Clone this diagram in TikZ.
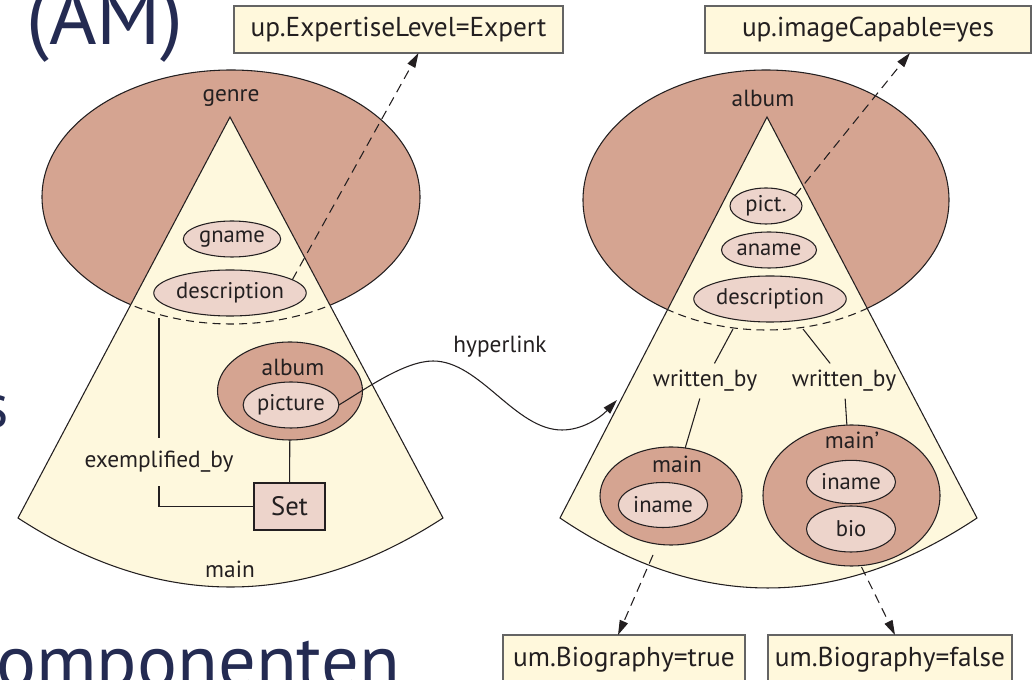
\documentclass[tikz,border=0pt]{standalone}
\usepackage{fontspec}
\setmainfont{PT Sans}
\usetikzlibrary{shapes.geometric,arrows.meta,calc}
\definecolor{cone}{RGB}{254,248,221}
\definecolor{outer}{RGB}{213,164,145}
\definecolor{inner}{RGB}{237,212,203}
\definecolor{note}{RGB}{255,248,220}
\definecolor{frame}{RGB}{100,100,100}
\definecolor{navy}{RGB}{36,43,82}
\definecolor{ink}{RGB}{35,31,32}
\begin{document}
\begin{tikzpicture}[x=0.75pt,y=-0.75pt,
  every node/.style={text=ink},
  lbl/.style={font=\fontsize{17.5}{19}\selectfont, inner sep=1pt},
  region/.style={ellipse, draw=ink, fill=outer, line width=0.8pt, inner sep=0pt, outer sep=0pt},
  attr/.style={ellipse, draw=ink, fill=inner, line width=0.8pt, inner sep=0pt, outer sep=0pt, font=\fontsize{17}{19}\selectfont},
  cond/.style={draw=frame, fill=note, line width=0.8pt, font=\fontsize{20.5}{22}\selectfont, inner sep=0pt, outer sep=0pt},
  ann/.style={draw=ink, line width=0.8pt, dash pattern=on 7pt off 4.5pt, -{Triangle[length=11pt,width=6.5pt]}},
  rel/.style={draw=ink, line width=0.8pt},
  conefill/.style={fill=cone, draw=ink, line width=0.8pt},
  border/.style={draw=ink, line width=0.8pt, dash pattern=on 6pt off 4pt},
  slide/.style={text=navy, inner sep=0pt}
]
\useasboundingbox (0,0) rectangle (1033,680);
\begin{scope}
\clip (0,0) rectangle (1033,680);

% slide text in the background
\node[slide, font=\fontsize{61}{64}\selectfont, anchor=base west] (title) at (26,45) {(AM)};
\node[slide, font=\fontsize{47}{50}\selectfont, anchor=base east] (side) at (9,428) {s};
\node[slide, font=\fontsize{56}{60}\selectfont, anchor=base west] (bottom) at (-4,688) {omponenten};

% ---------- left cone: genre ----------
\node[region, minimum width=283.5pt, minimum height=190.5pt] (genreE) at (231,197) {};
\coordinate (apexL) at (230,117);
\coordinate (blL) at (18,518);
\coordinate (brL) at (443,518);
\path[conefill] (apexL) -- (blL) .. controls (159.7,610) and (301.3,610) .. (brL) -- cycle;
\begin{scope}
  \clip (apexL) -- (blL) .. controls (159.7,610) and (301.3,610) .. (brL) -- cycle;
  \node[ellipse, border, minimum width=283.5pt, minimum height=190.5pt, inner sep=0pt] at (genreE.center) {};
\end{scope}
\node[lbl] (genreL) at (231,98) {genre};
\node[lbl] (mainB) at (230,569) {main};

\node[attr, minimum width=73pt, minimum height=27pt] (gname) at (232,239) {gname};
\node[attr, minimum width=106.5pt, minimum height=34.5pt] (desc1) at (230,293) {description};

\node[region, minimum width=108.75pt, minimum height=73.5pt] (albumL) at (290,391) {};
\node[lbl] (albumLL) at (293,367) {album};
\node[attr, minimum width=69pt, minimum height=34.5pt] (picture) at (291,405) {picture};

\node[draw=ink, fill=inner, line width=0.8pt, minimum width=53.25pt, minimum height=35.25pt,
      inner sep=0pt, outer sep=0pt, font=\fontsize{20}{22}\selectfont] (set) at (289.5,506.5) {Set};
\draw[rel] (albumL) -- (set);

\node[lbl, inner ysep=10pt] (exby) at (159,462) {exemplified\_by};
\coordinate (exTop) at (159,318);
\draw[rel] (set.west) -| (exby.south);
\draw[rel] (exby.north) -- (exTop);

% ---------- right cone: album ----------
\node[region, minimum width=274.5pt, minimum height=195pt] (albumE) at (766,200) {};
\coordinate (apexR) at (767,117);
\coordinate (blR) at (560,518);
\coordinate (brR) at (977,518);
\path[conefill] (apexR) -- (blR) .. controls (698,611.3) and (837,611.3) .. (brR) -- cycle;
\begin{scope}
  \clip (apexR) -- (blR) .. controls (698,611.3) and (837,611.3) .. (brR) -- cycle;
  \node[ellipse, border, minimum width=274.5pt, minimum height=195pt, inner sep=0pt] at (albumE.center) {};
\end{scope}
\node[lbl] (albumRL) at (763,98) {album};

\node[attr, minimum width=54pt, minimum height=27pt] (pict) at (766,206) {pict.};
\node[attr, minimum width=71.25pt, minimum height=27pt] (aname) at (769,250) {aname};
\node[attr, minimum width=105pt, minimum height=34.5pt] (desc2) at (770,299) {description};

\node[region, minimum width=106.5pt, minimum height=73.5pt] (mainL) at (671,496) {};
\node[lbl] (mainLL) at (677,464) {main};
\node[attr, minimum width=67pt, minimum height=33.75pt] (iname1) at (663,505) {iname};

\node[region, minimum width=132.75pt, minimum height=105.75pt] (mainR) at (851.5,495.5) {};
\node[lbl] (mainRL) at (852,440) {main’};
\node[attr, minimum width=66.75pt, minimum height=32.5pt] (iname2) at (851,482) {iname};
\node[attr, minimum width=66.75pt, minimum height=34.5pt] (bio) at (851,529) {bio};

\coordinate (wbStart1) at (733,329);
\coordinate (wbStart2) at (803,329);
\node[lbl, inner ysep=5pt] (wb1) at (705,381) {written\_by};
\node[lbl, inner ysep=5pt] (wb2) at (844,381) {written\_by};
\draw[rel] (wbStart1) -- (wb1);
\draw[rel] (wb1) -- (mainL);
\draw[rel] (wbStart2) -- (wb2);
\draw[rel] (wb2) -- (mainR);

% ---------- hyperlink between the cones ----------
\node[lbl] (hlL) at (500,347) {hyperlink};
\coordinate (hlEnd) at (617,400);
\draw[rel, -{Triangle[length=11pt,width=6.5pt]}] (picture.east)
  .. controls (367,388) and (405,361) .. (433,361)
  .. controls (480,361) and (515,430) .. (562,430)
  .. controls (582,430) and (600,418) .. (hlEnd);

% ---------- conditions ----------
\node[cond, minimum width=246.75pt, minimum height=35.25pt] (note1) at (398.5,29.5) {up.ExpertiseLevel=Expert};
\node[cond, minimum width=244.5pt, minimum height=35.25pt] (note2) at (868,29.5) {up.imageCapable=yes};
\node[cond, minimum width=181.5pt, minimum height=36.75pt] (note3) at (624,659.5) {um.Biography=true};
\node[cond, minimum width=183pt, minimum height=36.75pt] (note4) at (890,659.5) {um.Biography=false};

\draw[ann] (desc1.12) -- ($(note1.south)+(20,0)$);
\draw[ann] (pict.20) -- ($(note2.south)+(42,0)$);
\draw[ann] ($(mainL.south)+(-18,10)$) -- ($(note3.north)+(-6,0)$);
\draw[ann] ($(mainR.south)+(10,1)$) -- ($(note4.north)+(5,0)$);
\end{scope}
\end{tikzpicture}
\end{document}
